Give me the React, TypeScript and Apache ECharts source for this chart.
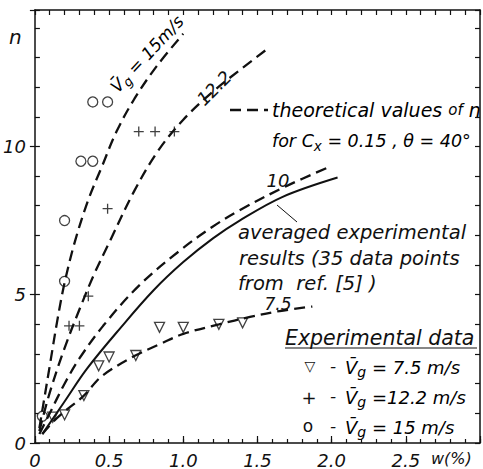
import React, { useEffect, useRef } from "react";
import * as echarts from "echarts";

// theoretical curves (w %, n)
const curve15: number[][] = [[0.03, 0.5], [0.06, 1.4], [0.1, 2.6], [0.15, 4.1], [0.2, 5.4], [0.27, 6.8], [0.36, 8.2], [0.45, 9.3], [0.55, 10.5], [0.67, 11.6], [0.82, 12.7], [1.0, 13.8]];
const curve122: number[][] = [[0.03, 0.4], [0.1, 1.7], [0.2, 3.2], [0.3, 4.5], [0.4, 5.7], [0.5, 6.75], [0.67, 8.5], [0.83, 9.85], [1.0, 10.9], [1.2, 11.85], [1.4, 12.65], [1.57, 13.3]];
const curve10: number[][] = [[0.03, 0.3], [0.1, 1.0], [0.2, 2.0], [0.3, 2.85], [0.46, 3.95], [0.7, 5.3], [0.98, 6.5], [1.2, 7.3], [1.38, 7.85], [1.69, 8.65], [1.98, 9.3]];
const curve75: number[][] = [[0.05, 0.3], [0.15, 0.85], [0.33, 1.6], [0.45, 2.25], [0.67, 2.93], [0.85, 3.35], [1.0, 3.68], [1.24, 4.0], [1.45, 4.25], [1.65, 4.45], [1.87, 4.6]];
// averaged experimental results
const averaged: number[][] = [[0.05, 0.3], [0.2, 1.4], [0.35, 2.5], [0.58, 3.9], [0.8, 5.15], [1.0, 6.1], [1.2, 6.9], [1.38, 7.5], [1.67, 8.3], [2.04, 8.95]];
// experimental data
const pts75: number[][] = [[0.12, 0.87], [0.2, 0.95], [0.33, 1.6], [0.43, 2.6], [0.5, 2.9], [0.68, 2.95], [0.84, 3.9], [1.0, 3.9], [1.24, 4.0], [1.4, 4.05]];
const pts122: number[][] = [[0.23, 3.95], [0.3, 3.95], [0.36, 4.95], [0.49, 7.9], [0.7, 10.5], [0.81, 10.5], [0.94, 10.5]];
const pts15: number[][] = [[0.05, 0.9], [0.2, 5.45], [0.2, 7.5], [0.31, 9.5], [0.39, 9.5], [0.39, 11.5], [0.49, 11.5]];

const xLabels: number[] = [0, 0.5, 1.0, 1.5, 2.0, 2.5];
const yLabels: number[] = [0, 5, 10];

const FONT = "DejaVu Sans";
const INK = "#111";
const DEG = Math.PI / 180;

const dashedLine = (data: number[][]) => ({
  type: "line",
  data,
  smooth: 0.35,
  showSymbol: false,
  silent: true,
  lineStyle: { color: INK, width: 2.3, type: [11, 6] },
});

const scatter = (data: number[][], symbol: string, rotate = 0) => ({
  type: "scatter",
  data,
  symbol,
  symbolSize: 10,
  symbolRotate: rotate,
  itemStyle: { color: "#fff", borderColor: INK, borderWidth: 1.3 },
});

const txt = (x: number, y: number, text: string, size = 19, extra: any = {}) => ({
  type: "text",
  x,
  y,
  style: {
    text,
    fill: INK,
    fontStyle: "italic",
    fontSize: size,
    fontFamily: FONT,
    align: "left",
    verticalAlign: "middle",
    ...extra,
  },
});

const rich = (size: number) => ({
  m: { fontSize: size, fontFamily: FONT, fontStyle: "italic", lineHeight: size + 3, color: INK },
  s: { fontSize: size - 4, fontFamily: FONT, fontStyle: "italic", lineHeight: size - 3, padding: [10, 0, 0, 0], color: INK },
  o: { fontSize: size - 4, fontFamily: FONT, fontStyle: "italic", lineHeight: size + 3, color: INK },
});

const richTxt = (x: number, y: number, text: string, size = 19, extra: any = {}) => ({
  type: "text",
  x,
  y,
  ...extra,
  style: {
    text,
    rich: rich(size),
    align: "left",
    verticalAlign: "middle",
    ...(extra.style || {}),
  },
});

export default function App() {
  const ref = useRef<HTMLDivElement>(null);
  useEffect(() => {
    if (!ref.current) return;
    const chart = echarts.init(ref.current, null, { renderer: "svg" });
    const labelStyle = { color: INK, fontFamily: FONT, fontStyle: "italic", fontSize: 18 };
    const baseX = {
      type: "value",
      min: 0,
      max: 3,
      splitLine: { show: false },
      axisLine: { show: true, onZero: false, lineStyle: { color: INK, width: 1.5 } },
    };
    const baseY = {
      type: "value",
      min: 0,
      max: 14.6,
      splitLine: { show: false },
      axisLine: { show: true, onZero: false, lineStyle: { color: INK, width: 1.5 } },
    };
    chart.setOption({
      animation: false,
      backgroundColor: "#fff",
      grid: { left: 33, right: 2, top: 10, bottom: 24, containLabel: false },
      xAxis: [
        {
          ...baseX,
          position: "bottom",
          interval: 0.1,
          axisTick: { inside: true, length: 4, lineStyle: { color: INK, width: 1.2 } },
          axisLabel: { show: false },
        },
        {
          ...baseX,
          position: "bottom",
          interval: 0.5,
          axisLine: { show: false },
          axisTick: { inside: true, length: 7, lineStyle: { color: INK, width: 1.2 } },
          axisLabel: {
            ...labelStyle,
            margin: 8,
            formatter: (v: number) => {
              const hit = xLabels.find((t) => Math.abs(t - v) < 1e-6);
              if (hit === undefined) return "";
              return hit === 0 ? "0" : hit.toFixed(1);
            },
          },
        },
        {
          ...baseX,
          position: "top",
          interval: 0.1,
          axisTick: { inside: true, length: 5, lineStyle: { color: INK, width: 1.2 } },
          axisLabel: { show: false },
        },
      ],
      yAxis: [
        {
          ...baseY,
          position: "left",
          interval: 1,
          axisTick: { inside: true, length: 5, lineStyle: { color: INK, width: 1.2 } },
          axisLabel: {
            ...labelStyle,
            margin: 9,
            formatter: (v: number) => (yLabels.some((t) => Math.abs(t - v) < 1e-6) ? String(v) : ""),
          },
        },
        {
          ...baseY,
          position: "left",
          interval: 5,
          axisLine: { show: false },
          axisTick: { inside: false, length: 5, lineStyle: { color: INK, width: 1.2 } },
          axisLabel: { show: false },
        },
        {
          ...baseY,
          position: "right",
          interval: 1,
          axisTick: { inside: true, length: 5, lineStyle: { color: INK, width: 1.2 } },
          axisLabel: { show: false },
        },
      ],
      series: [
        dashedLine(curve15),
        dashedLine(curve122),
        dashedLine(curve10),
        dashedLine(curve75),
        {
          type: "line",
          data: averaged,
          smooth: 0.35,
          showSymbol: false,
          silent: true,
          lineStyle: { color: INK, width: 2 },
        },
        scatter(pts75, "triangle", 180),
        scatter(pts122, "path://M5,0L5,10M0,5L10,5"),
        scatter(pts15, "circle"),
      ],
      graphic: [
        txt(9, 37, "n", 20),
        txt(431, 458, "w(%)", 16),
        richTxt(147, 54, "{m|V\u0304}{s|g}{m| = 15m/s}", 17, {
          rotation: 47 * DEG,
          style: { align: "center", verticalAlign: "middle" },
        }),
        { ...txt(214, 88, "12.2", 18, { align: "center" }), rotation: 45 * DEG },
        {
          type: "line",
          shape: { x1: 230, y1: 110, x2: 268, y2: 110 },
          style: { stroke: INK, lineWidth: 2.3, lineDash: [11, 6] },
        },
        richTxt(272, 110, "{m|theoretical values }{o|of}{m| n}", 19),
        richTxt(272, 141, "{m|for C}{s|x}{m| = 0.15 , θ = 40°}", 17.5),
        txt(278, 180, "10", 18, { align: "center" }),
        {
          type: "line",
          shape: { x1: 277, y1: 205, x2: 297, y2: 222 },
          style: { stroke: INK, lineWidth: 1 },
        },
        txt(238, 232, "averaged experimental", 19.5),
        txt(239, 258, "results (35 data points", 19.5),
        txt(238, 283, "from  ref. [5] )", 19.5),
        txt(278, 304, "7.5", 17, { align: "center" }),
        txt(285, 338, "Experimental data", 20.5),
        {
          type: "line",
          shape: { x1: 285, y1: 348, x2: 477, y2: 348 },
          style: { stroke: INK, lineWidth: 1.2 },
        },
        txt(310, 366, "▽", 14, { align: "center", fontStyle: "normal" }),
        txt(309, 397, "+", 18, { align: "center" }),
        txt(308, 426, "o", 17, { align: "center", fontStyle: "normal" }),
        txt(333, 366, "-", 17, { align: "center" }),
        txt(333, 396, "-", 17, { align: "center" }),
        txt(333, 426, "-", 17, { align: "center" }),
        richTxt(345, 367, "{m|V\u0304}{s|g}{m| = 7.5 m/s}", 18),
        richTxt(345, 397, "{m|V\u0304}{s|g}{m| =12.2 m/s}", 18),
        richTxt(345, 427, "{m|V\u0304}{s|g}{m| = 15 m/s}", 18),
      ],
    } as any);
    return () => chart.dispose();
  }, []);
  return (
    <div
      ref={ref}
      style={{ position: "fixed", left: 0, top: 0, width: 483, height: 469, background: "#fff" }}
    />
  );
}
